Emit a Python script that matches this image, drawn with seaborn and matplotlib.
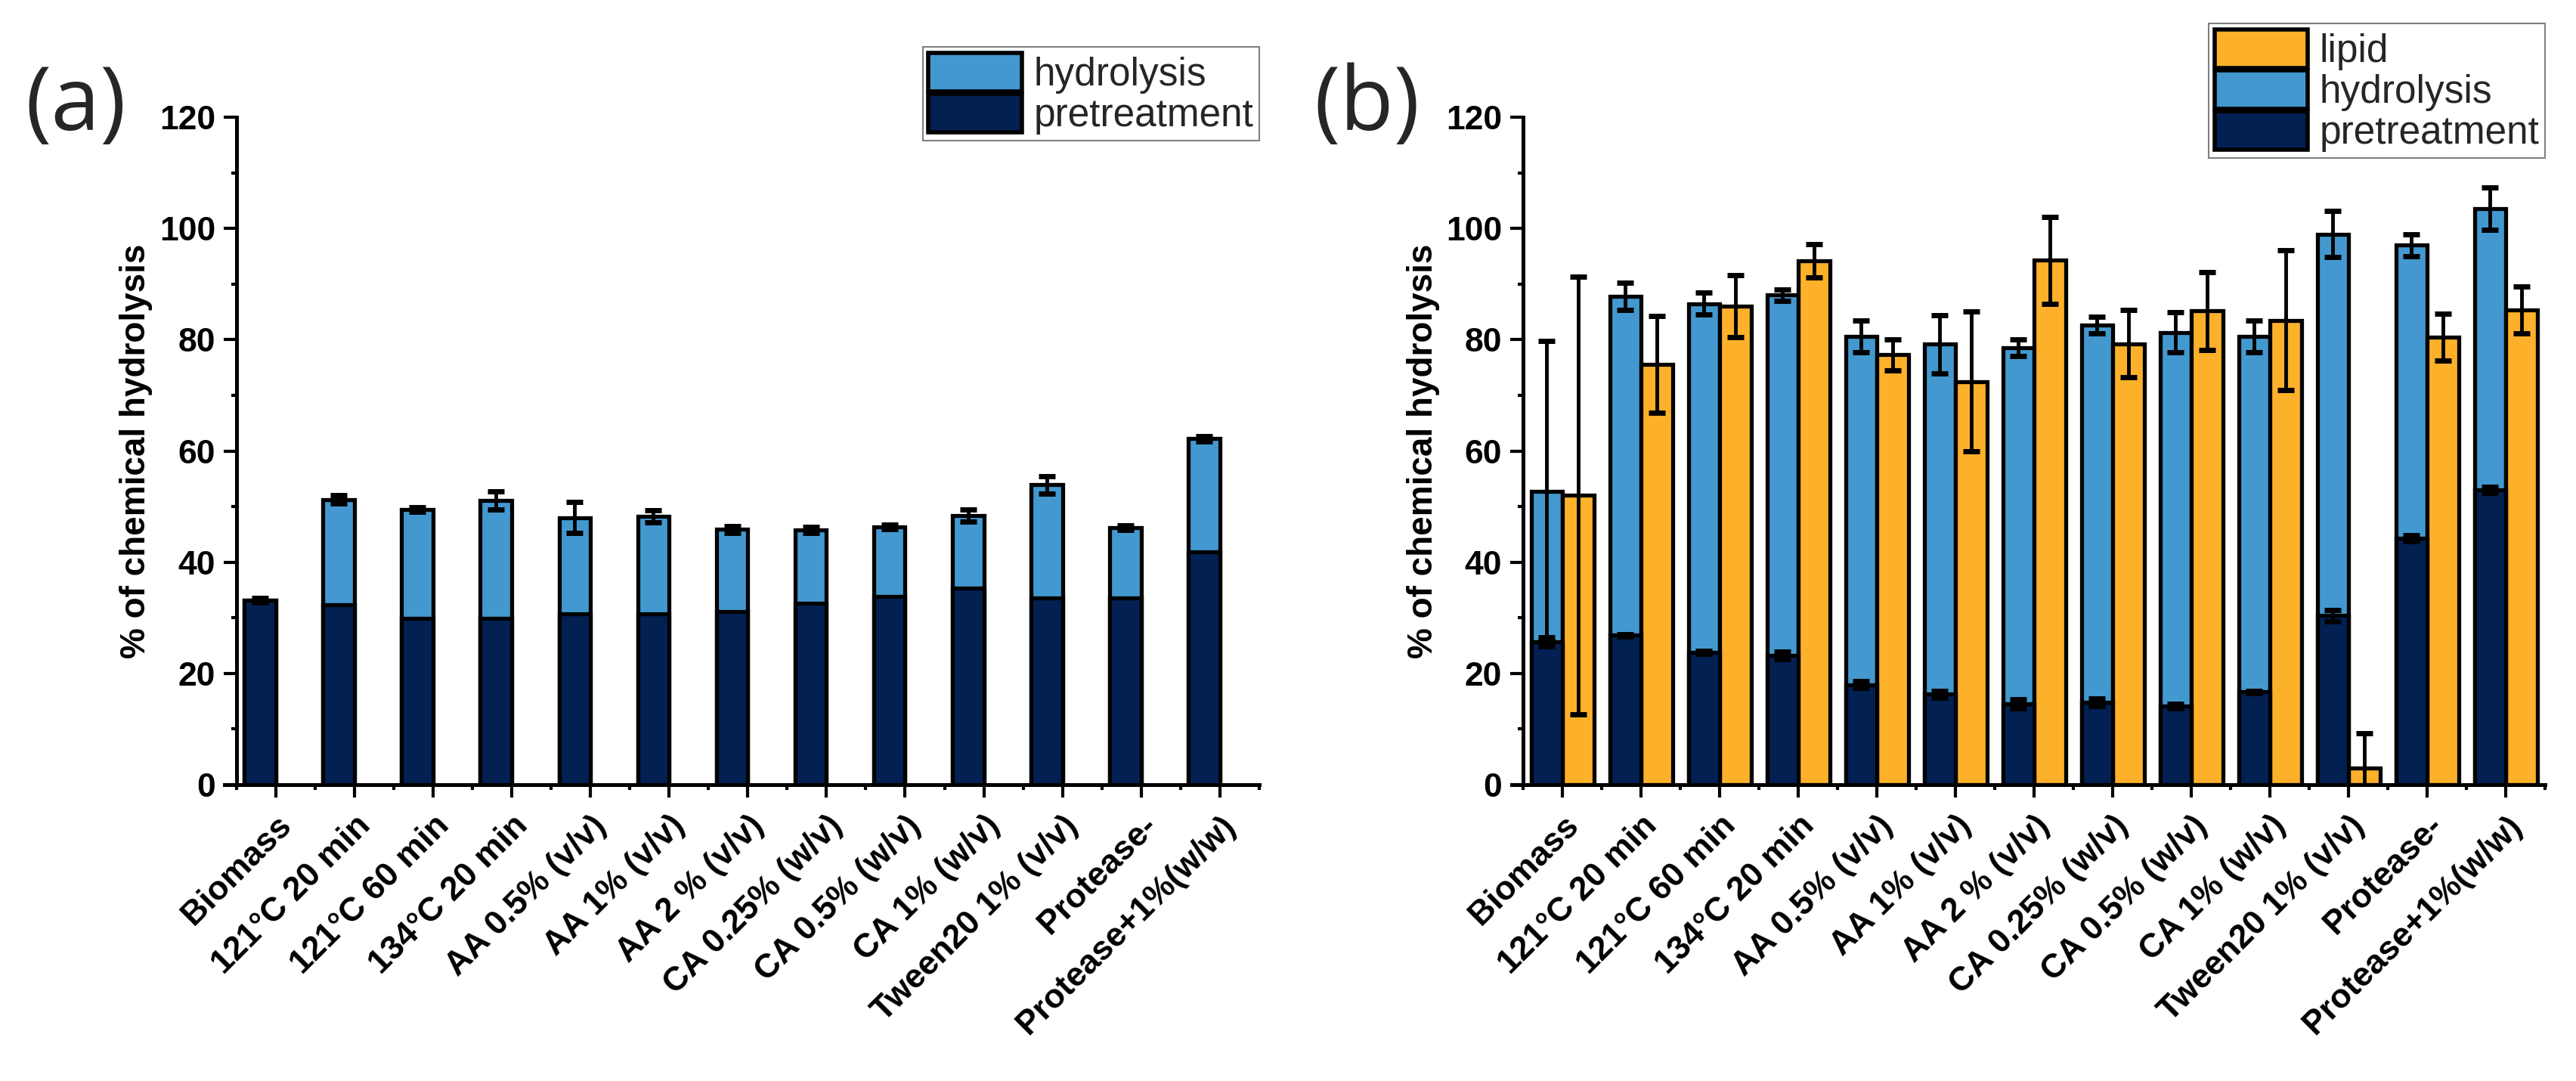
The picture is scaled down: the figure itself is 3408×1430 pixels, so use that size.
import numpy as np
import pandas as pd
import matplotlib
matplotlib.use("Agg")
import matplotlib.pyplot as plt
from matplotlib.patches import Patch
import seaborn as sns

sns.set_theme(style="ticks")
plt.rcParams["font.family"] = ["Liberation Sans", "DejaVu Sans"]

conditions = ["Biomass", "121°C 20 min", "121°C 60 min", "134°C 20 min",
              "AA 0.5% (v/v)", "AA 1% (v/v)", "AA 2 % (v/v)", "CA 0.25% (w/v)",
              "CA 0.5% (w/v)", "CA 1% (w/v)", "Tween20 1% (v/v)", "Protease-",
              "Protease+1%(w/w)"]

# panel (a): pretreatment + hydrolysis (stacked total)
a_pretreatment = [33.2, 32.3, 29.9, 29.9, 30.7, 30.7, 31.1, 32.6, 33.8, 35.3, 33.6, 33.6, 41.8]
a_total = [33.2, 51.3, 49.5, 51.1, 48.0, 48.3, 45.9, 45.8, 46.3, 48.4, 53.9, 46.2, 62.2]
a_total_err = [0.4, 0.8, 0.4, 1.6, 2.8, 1.1, 0.6, 0.5, 0.4, 1.1, 1.6, 0.4, 0.5]

# panel (b): pretreatment, hydrolysis (stacked total) and lipid
b_pretreatment = [25.7, 26.9, 23.8, 23.2, 18.0, 16.3, 14.5, 14.8, 14.1, 16.7, 30.4, 44.3, 53.0]
b_pretreatment_err = [0.8, 0.2, 0.3, 0.7, 0.6, 0.6, 0.8, 0.7, 0.4, 0.2, 1.0, 0.5, 0.5]
b_hydrolysis = [52.8, 87.8, 86.5, 88.0, 80.6, 79.2, 78.6, 82.6, 81.3, 80.6, 99.0, 97.0, 103.5]
b_hydrolysis_err = [27.0, 2.5, 2.0, 1.0, 2.8, 5.2, 1.5, 1.5, 3.6, 2.8, 4.2, 2.0, 3.8]
b_lipid = [52.0, 75.5, 86.0, 94.2, 77.3, 72.5, 94.3, 79.3, 85.2, 83.5, 3.0, 80.5, 85.3]
b_lipid_err = [39.3, 8.7, 5.6, 3.0, 2.8, 12.6, 7.8, 6.0, 7.0, 12.6, 6.2, 4.2, 4.2]

navy = "#022052"
blue = "#4399CF"
orange = "#FDB12A"
hue_order = ["hydrolysis", "lipid"]
pal = {"hydrolysis": blue, "lipid": orange}
pal_pre = {"hydrolysis": navy, "lipid": orange}
n = len(conditions)
x = np.arange(n)
bar_w = 0.4

fig = plt.figure(figsize=(34.08, 14.30), dpi=100)
ax_a = fig.add_axes([0.0918, 0.2741, 0.3970, 0.6175])
ax_b = fig.add_axes([0.5913, 0.2741, 0.3967, 0.6175])

edge_kw = dict(edgecolor="black", linewidth=3.8, saturation=1, errorbar=None,
               legend=False, width=0.8, dodge=True, order=conditions, hue_order=hue_order)
err_kw = dict(fmt="none", ecolor="black", elinewidth=3.5, capsize=8, capthick=5, zorder=6)

# --- panel a
df_a_tot = pd.DataFrame({"condition": conditions, "series": "hydrolysis", "value": a_total})
df_a_pre = pd.DataFrame({"condition": conditions, "series": "hydrolysis", "value": a_pretreatment})
sns.barplot(data=df_a_tot, x="condition", y="value", hue="series", palette=pal, ax=ax_a, **edge_kw)
sns.barplot(data=df_a_pre, x="condition", y="value", hue="series", palette=pal_pre, ax=ax_a, **edge_kw)
ax_a.errorbar(x - bar_w / 2, a_total, yerr=a_total_err, **err_kw)

# --- panel b
df_b_top = pd.DataFrame({
    "condition": conditions * 2,
    "series": ["hydrolysis"] * n + ["lipid"] * n,
    "value": b_hydrolysis + b_lipid,
})
df_b_pre = pd.DataFrame({"condition": conditions, "series": "hydrolysis", "value": b_pretreatment})
sns.barplot(data=df_b_top, x="condition", y="value", hue="series", palette=pal, ax=ax_b, **edge_kw)
sns.barplot(data=df_b_pre, x="condition", y="value", hue="series", palette=pal_pre, ax=ax_b, **edge_kw)
for xs, ys, es in [(x - bar_w / 2, b_hydrolysis, b_hydrolysis_err),
                   (x - bar_w / 2, b_pretreatment, b_pretreatment_err),
                   (x + bar_w / 2, b_lipid, b_lipid_err)]:
    ax_b.errorbar(xs, ys, yerr=es, **err_kw)

for ax in (ax_a, ax_b):
    sns.despine(ax=ax)
    ax.set_xlim(-0.5, n - 0.5)
    ax.set_ylim(0, 120)
    ax.set_yticks(np.arange(0, 121, 20))
    ax.set_yticks(np.arange(10, 120, 20), minor=True)
    ax.set_xticks(x)
    ax.set_xticks(np.arange(n + 1) - 0.5, minor=True)
    ax.set_xticklabels(conditions, rotation=45, ha="right", va="top",
                       rotation_mode="anchor", fontweight="bold", fontsize=33)
    for lab in ax.get_yticklabels():
        lab.set_fontweight("bold")
    ax.tick_params(axis="both", which="major", direction="out", length=12, width=3,
                   color="black", labelsize=32, labelcolor="black")
    ax.tick_params(axis="x", which="major", pad=12)
    ax.tick_params(axis="y", which="major", pad=8)
    ax.tick_params(axis="both", which="minor", direction="out", length=5, width=3, color="black")
    for side in ("left", "bottom"):
        ax.spines[side].set_linewidth(3.6)
        ax.spines[side].set_color("black")
    # bottom axis line runs a little past the y axis, as in the original
    ax.spines["bottom"].set_bounds(-0.65, n - 0.5)
    ax.set_xlabel("")
    ax.set_ylabel("% of chemical hydrolysis", fontsize=33, fontweight="bold",
                  color="black", labelpad=6)
    ax.grid(False)

leg_kw = dict(loc="upper right", fontsize=37, frameon=True, fancybox=False,
              edgecolor="#808080", framealpha=1, handlelength=2.4, handleheight=1.15,
              handletextpad=0.3, labelspacing=0.0, borderpad=0.15, borderaxespad=0)
ha = [Patch(facecolor=blue, edgecolor="black", linewidth=4, label="hydrolysis"),
      Patch(facecolor=navy, edgecolor="black", linewidth=4, label="pretreatment")]
leg = ax_a.legend(handles=ha, bbox_to_anchor=(1.0, 1.105), **leg_kw)
leg.get_frame().set_linewidth(1.5)
hb = [Patch(facecolor=orange, edgecolor="black", linewidth=4, label="lipid")] + ha
leg = ax_b.legend(handles=hb, bbox_to_anchor=(1.0, 1.14), **leg_kw)
leg.get_frame().set_linewidth(1.5)

fig.text(0.0097, 0.901, "(a)", fontsize=84, family=["Open Sans", "DejaVu Sans"], va="center")
fig.text(0.510, 0.901, "(b)", fontsize=84, family=["Open Sans", "DejaVu Sans"], va="center")

fig.savefig("out.png", dpi=100, facecolor="white")
